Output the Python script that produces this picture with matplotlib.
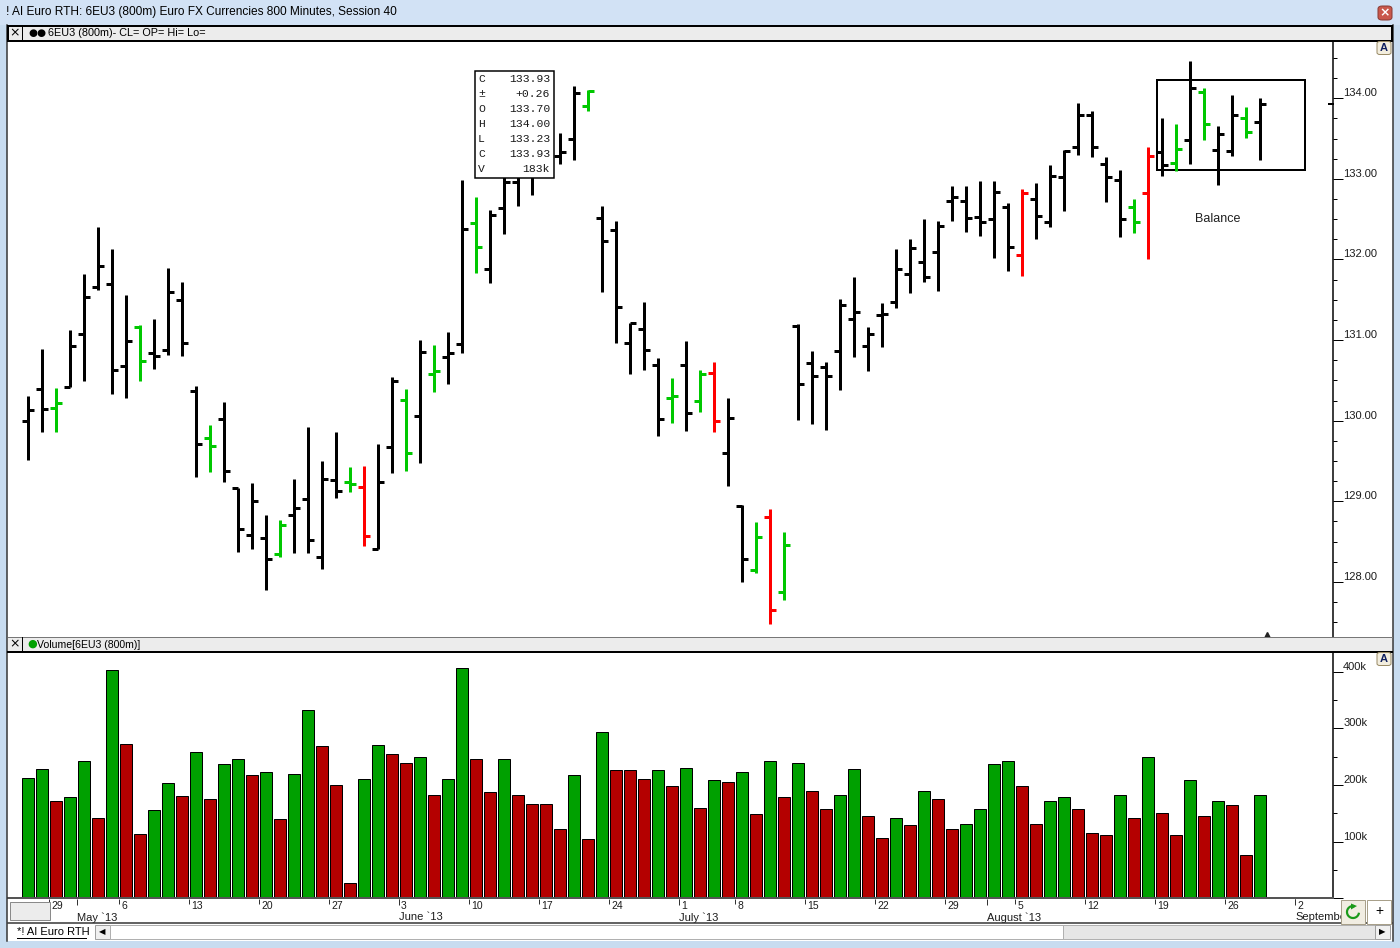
import matplotlib
matplotlib.use("Agg")
import matplotlib.pyplot as plt
from matplotlib.patches import Rectangle, FancyBboxPatch, Arc, Polygon
from matplotlib.ticker import MultipleLocator
from matplotlib.transforms import Bbox, TransformedBbox

# 6EU3 800 minute bars
opens = [130.00, 130.39, 130.16, 130.42, 131.07, 131.66, 131.70, 130.68, 131.16, 130.84,
         130.88, 131.50, 130.37, 129.78, 130.02, 129.16, 128.58, 128.55, 128.35, 128.83,
         129.03, 128.31, 129.26, 129.24, 129.18, 128.41, 129.67, 130.26, 130.06, 130.58,
         130.79, 130.95, 132.45, 131.88, 132.64, 132.96, 133.05, 133.30, 133.29, 133.49,
         133.90, 132.51, 132.37, 130.96, 131.14, 130.69, 130.28, 130.69, 130.25, 130.59,
         129.60, 128.94, 128.15, 128.80, 127.87, 131.17, 130.71, 130.67, 130.87, 131.26,
         130.93, 131.31, 131.47, 131.82, 131.97, 132.09, 132.73, 132.73, 132.53, 132.50,
         132.65, 132.06, 132.75, 132.47, 133.02, 133.40, 133.79, 133.19, 132.99, 132.65,
         132.83, 133.33, 133.20, 133.48, 134.08, 133.36, 133.35, 133.76, 133.70]
highs = [130.31, 130.89, 130.41, 131.13, 131.82, 132.40, 132.13, 131.56, 131.19, 131.26,
         131.90, 131.72, 130.43, 129.95, 130.23, 129.16, 129.23, 128.83, 128.77, 129.28,
         129.92, 129.50, 129.86, 129.42, 129.44, 129.71, 130.54, 130.39, 131.00, 130.94,
         131.10, 132.99, 132.78, 132.61, 133.05, 133.20, 133.35, 133.45, 133.57, 134.15,
         134.10, 132.66, 132.48, 131.21, 131.47, 130.78, 130.53, 130.99, 130.63, 130.73,
         130.28, 128.95, 128.74, 128.91, 128.62, 131.20, 130.87, 130.73, 131.51, 131.78,
         131.16, 131.46, 132.13, 132.26, 132.50, 132.48, 132.91, 132.91, 132.97, 132.97,
         132.70, 132.88, 132.95, 133.17, 133.36, 133.94, 133.84, 133.27, 133.11, 132.75,
         133.40, 133.75, 133.68, 134.46, 134.13, 133.66, 134.04, 133.89, 134.00]
lows = [129.51, 129.86, 129.86, 130.42, 130.49, 131.62, 130.33, 130.28, 130.49, 130.64,
        130.82, 130.80, 129.30, 129.36, 129.24, 128.37, 128.41, 127.90, 128.31, 128.36,
        128.36, 128.16, 129.04, 129.12, 128.45, 128.41, 129.35, 129.37, 129.48, 130.35,
        130.46, 130.84, 131.83, 131.71, 132.32, 132.66, 132.80, 133.10, 133.18, 133.24,
        133.84, 131.60, 130.96, 130.58, 130.63, 129.81, 129.97, 129.87, 130.11, 129.86,
        129.19, 128.00, 128.11, 127.48, 127.78, 130.01, 129.96, 129.89, 130.38, 130.79,
        130.62, 130.91, 131.40, 131.58, 131.72, 131.61, 132.48, 132.34, 132.29, 132.02,
        131.86, 131.80, 132.26, 132.40, 132.60, 133.30, 133.27, 132.71, 132.28, 132.33,
        132.00, 133.04, 133.10, 133.19, 133.48, 132.93, 133.28, 133.51, 133.23]
closes = [130.13, 130.14, 130.22, 130.93, 131.54, 131.92, 130.63, 130.99, 130.74, 130.80,
          131.60, 130.97, 129.71, 129.68, 129.37, 128.66, 129.00, 128.29, 128.70, 128.92,
          128.52, 129.28, 129.13, 129.21, 128.57, 129.24, 130.49, 129.60, 130.85, 130.62,
          130.84, 132.38, 132.16, 132.55, 132.96, 133.10, 133.28, 133.35, 133.33, 134.07,
          134.09, 132.23, 131.41, 131.21, 130.88, 130.02, 130.31, 130.10, 130.58, 129.99,
          130.03, 128.28, 128.56, 127.65, 128.46, 130.45, 130.55, 130.56, 131.43, 131.35,
          131.08, 131.32, 131.88, 132.14, 131.78, 132.41, 132.77, 132.51, 132.47, 132.84,
          132.15, 132.82, 132.54, 133.04, 133.35, 133.79, 133.40, 133.02, 132.50, 132.46,
          133.29, 133.17, 133.37, 134.13, 133.68, 133.56, 133.79, 133.58, 133.93]
# k = black, g = green, r = red price bar
bar_codes = ("kkgkkkkkgk" "kkkgkkkkgk" "kkkgrkkgkg" "kkgkkkkkkk" "gkkkkkgkgr"
             "kkgrgkkkkk" "kkkkkkkkkk" "krkkkkkkkg" "rkgkgkkgk")
volumes_k = [212, 228, 171, 178, 243, 141, 402, 273, 113, 155,
             203, 180, 258, 176, 236, 245, 217, 222, 139, 220,
             332, 268, 199, 27, 210, 270, 254, 238, 250, 183,
             210, 407, 245, 187, 245, 182, 166, 166, 122, 217,
             104, 293, 226, 226, 210, 226, 198, 229, 159, 208,
             206, 222, 148, 243, 178, 238, 189, 157, 182, 228,
             146, 106, 141, 129, 189, 175, 122, 131, 157, 236,
             243, 198, 131, 171, 178, 157, 116, 111, 182, 141,
             250, 150, 111, 208, 145, 171, 164, 76, 183]
vol_codes = ("ggrggrgrrg" "grgrggrgrg" "grrrggrrgr" "ggrrgrrrrg" "rgrrrgrgrg"
             "rgrgrgrrgg" "rrgrgrrggg" "grrggrrrgr" "grrgrgrrg")

week_pos = [1.5, 6.5, 11.5, 16.5, 21.5, 26.5, 31.5, 36.5, 41.5, 46.5,
            50.5, 55.5, 60.5, 65.5, 70.5, 75.5, 80.5, 85.5, 90.5]
week_lbl = ['29', '6', '13', '20', '27', '3', '10', '17', '24', '1',
            '8', '15', '22', '29', '5', '12', '19', '26', '2']
month_pos = [3.5, 26.5, 46.5, 68.5, 90.5]
month_lbl = ['May `13', 'June `13', 'July `13', 'August `13', 'September']

price_ticks = [128, 129, 130, 131, 132, 133, 134]
vol_ticks = [100, 200, 300, 400]

info_keys = ['C', '\u00b1', 'O', 'H', 'L', 'C', 'V']
info_vals = ['133.93', '+0.26', '133.70', '134.00', '133.23', '133.93', '183k']

title = "! AI Euro RTH: 6EU3 (800m) Euro FX Currencies 800 Minutes, Session 40"

price_col = {'k': '#000000', 'g': '#00c800', 'r': '#ff0000'}
vol_col = {'g': '#00a000', 'r': '#b40000'}

W, H = 1400, 948
PX = 0.72   # one pixel in points

def fx(x):
    return x / W

def fy(y):
    return 1 - y / H

def box(x0, y0, x1, y1, fc, ec='none', lw=1, z=1):
    fig.add_artist(Rectangle((fx(x0), fy(y1)), fx(x1) - fx(x0), fy(y0) - fy(y1),
                             transform=fig.transFigure, facecolor=fc, edgecolor=ec,
                             lw=lw * PX, zorder=z))

def line(x0, y0, x1, y1, c='black', lw=1, z=2):
    fig.add_artist(plt.Line2D([fx(x0), fx(x1)], [fy(y0), fy(y1)], transform=fig.transFigure,
                              color=c, lw=lw * PX, zorder=z))

def ftext(x, y, s, **kw):
    kw.setdefault('family', 'Liberation Sans')
    kw.setdefault('fontsize', 8)
    kw.setdefault('va', 'center')
    fig.text(fx(x), fy(y), s, **kw)

fig = plt.figure(figsize=(14, 9.48), dpi=100)
fig.patch.set_facecolor('white')

# x range in bar units (bar i sits at pixel 28 + 14 i)
xmin, xmax = (8 - 28) / 14, (1333 - 28) / 14
xs = list(range(len(opens)))

# ---- price pane
ax = fig.add_axes([fx(8), fy(637), fx(1333) - fx(8), fy(41) - fy(637)])
ax.set_xlim(xmin, xmax)
ax.set_ylim(127.316, 134.711)
cols = [price_col[c] for c in bar_codes]
ax.vlines(xs, lows, highs, colors=cols, lw=3 * PX)
ax.hlines(opens, [x - 0.45 for x in xs], xs, colors=cols, lw=3 * PX)
ax.hlines(closes, xs, [x + 0.45 for x in xs], colors=cols, lw=3 * PX)
ax.add_patch(Rectangle((80.62, 133.11), 10.62, 1.12, fill=False, lw=2 * PX, ec='black'))
ax.text(85.0, 132.50, 'Balance', ha='center', va='center', fontsize=9,
        family='Liberation Sans', color='#202020')
ax.plot([0.997, 1.0], [closes[-1], closes[-1]], color='black', lw=2 * PX,
        transform=ax.get_yaxis_transform(), clip_on=False)
ax.plot([88.5], [0.004], marker='^', ms=5, color='#222222',
        transform=ax.get_xaxis_transform(), clip_on=False)

ax.yaxis.tick_right()
ax.yaxis.set_major_locator(MultipleLocator(1))
ax.yaxis.set_minor_locator(MultipleLocator(0.25))
ax.tick_params(axis='y', which='major', length=7.3, width=PX, labelright=False)
ax.tick_params(axis='y', which='minor', length=3.0, width=PX)
ax.set_xticks([])
for s in ['top', 'left', 'bottom']:
    ax.spines[s].set_visible(False)
ax.spines['right'].set_linewidth(1.5 * PX)
for p in price_ticks:
    ax.text(1.0076, p, f'{p:.2f}', transform=ax.get_yaxis_transform(), ha='left',
            va='bottom', fontsize=8, family='Liberation Sans', color='#1c1c1c')

# ---- volume pane
av = fig.add_axes([fx(8), fy(898.3), fx(1333) - fx(8), fy(652) - fy(898.3)])
av.set_xlim(xmin, xmax)
av.set_ylim(0, 434.4)
av.bar(xs, volumes_k, width=0.86, color=[vol_col[c] for c in vol_codes],
       edgecolor='black', lw=PX)
av.yaxis.tick_right()
av.yaxis.set_major_locator(MultipleLocator(100))
av.yaxis.set_minor_locator(MultipleLocator(50))
av.tick_params(axis='y', which='major', length=7.3, width=PX, labelright=False)
av.tick_params(axis='y', which='minor', length=3.0, width=PX)
av.set_xticks([])
for s in ['top', 'left']:
    av.spines[s].set_visible(False)
av.spines['right'].set_linewidth(1.5 * PX)
av.spines['bottom'].set_color('#555555')
av.spines['bottom'].set_linewidth(2 * PX)
for v in vol_ticks:
    av.text(1.0076, v, f'{v}k', transform=av.get_yaxis_transform(), ha='left',
            va='bottom', fontsize=8, family='Liberation Sans', color='#1c1c1c')

# ---- date axis
ad = fig.add_axes([fx(8), fy(922), fx(1333) - fx(8), fy(899) - fy(922)])
ad.set_xlim(xmin, xmax)
ad.set_ylim(922, 899)
ad.axis('off')
ad.vlines(week_pos, 899, 904, colors='#333333', lw=PX)
ad.vlines(month_pos, 899, 905, colors='#333333', lw=PX)
# labels are cut where the buttons in the corner start
label_clip = TransformedBbox(Bbox([[fx(8), fy(922)], [fx(1340), fy(899)]]), fig.transFigure)
for p, s in zip(week_pos, week_lbl):
    t = ad.text(p + 0.15, 906, s, ha='left', va='center', fontsize=7.5,
                family='Liberation Sans', color='#1c1c1c')
    t.set_clip_box(label_clip)
for p, s in zip(month_pos, month_lbl):
    t = ad.text(p, 917.5, s, ha='left', va='center', fontsize=8,
                family='Liberation Sans', color='#1c1c1c')
    t.set_clip_box(label_clip)

# ---- window chrome
box(0, 0, 1400, 25, '#d2e2f5', z=0)
ftext(6, 12.5, title, fontsize=8.6)
close_btn = FancyBboxPatch((fx(1378), fy(20)), fx(14), fy(6) - fy(20),
                           boxstyle='round,pad=0,rounding_size=0.003',
                           transform=fig.transFigure, fc='#c9584c', ec='#8a3a33',
                           lw=PX, zorder=3)
fig.add_artist(close_btn)
ftext(1385, 13, '\u00d7', fontsize=9, ha='center', color='white', weight='bold',
      family='DejaVu Sans')
box(0, 25, 7, 948, '#c8dcf0', z=0)
box(1393, 25, 1400, 948, '#c8dcf0', z=0)
box(0, 941, 1400, 948, '#c8dcf0', z=0)
line(7, 25, 7, 941, c='#333333', lw=1.5)
line(1392.5, 25, 1392.5, 941, c='#333333', lw=1.5)

# price header
box(8, 25.5, 1392, 40.5, '#ececec', ec='black', lw=2, z=2)
line(22, 26, 22, 40, lw=1, z=3)
ftext(15, 33, '\u00d7', fontsize=9, ha='center', family='DejaVu Sans')
ftext(37, 33, '\u25cf\u25cf', fontsize=7.5, ha='center', family='DejaVu Sans')
ftext(48, 33, '6EU3 (800m)- CL= OP= Hi= Lo=', fontsize=7.8)

# volume header
box(8, 637, 1392, 651.5, '#ececec', ec='none', z=2)
line(8, 637, 1392, 637, c='#777777', lw=1, z=3)
line(8, 651.5, 1392, 651.5, c='black', lw=2, z=3)
line(22, 637, 22, 651, lw=1, z=3)
ftext(15, 644, '\u00d7', fontsize=9, ha='center', family='DejaVu Sans')
ftext(32, 644, '\u25cf', fontsize=8, ha='center', family='DejaVu Sans', color='#00a000')
ftext(37, 644.5, 'Volume[6EU3 (800m)]', fontsize=7.6)

# "A" buttons
for yb in [41.5, 652.5]:
    fig.add_artist(FancyBboxPatch((fx(1377), fy(yb + 13)), fx(14), fy(yb) - fy(yb + 13),
                                  boxstyle='round,pad=0,rounding_size=0.002',
                                  transform=fig.transFigure, fc='#f3eedf', ec='#9a8b66',
                                  lw=PX, zorder=3))
    ftext(1384, yb + 6.5, 'A', fontsize=8, ha='center', color='#102060', weight='bold')

# date axis border and small boxes
line(8, 922.5, 1392, 922.5, c='#333333', lw=1.5)
box(10, 902, 50, 920, '#ececec', ec='#8a8a8a', lw=1, z=2)
box(1341, 900, 1365, 924, '#f1ede2', ec='#a8a08a', lw=1, z=5)
# refresh icon: circular arrow
fig.add_artist(Arc((fx(1353), fy(912)), 12 / W, 12 / H, theta1=80, theta2=350,
                   transform=fig.transFigure, color='#1a9a1a', lw=2.2 * PX, zorder=6))
fig.add_artist(Polygon([(fx(1351), fy(903.5)), (fx(1357), fy(906)), (fx(1351), fy(909.5))],
                       closed=True, transform=fig.transFigure, fc='#1a9a1a',
                       ec='none', zorder=6))
box(1367, 900, 1391, 924, '#ffffff', ec='#a8a08a', lw=1, z=5)
ftext(1379, 911.5, '+', fontsize=10, ha='center', zorder=6)

# bottom tab bar with scroll bar
box(8, 923, 1392, 941, '#ffffff', z=1)
ftext(17, 932, '*! AI Euro RTH', fontsize=8)
line(17, 937.5, 86, 937.5, lw=1)
box(95, 925, 110, 939, '#f0f0f0', ec='#a0a0a0', lw=1, z=2)
ftext(102.5, 932, '\u25c0', fontsize=6, ha='center', family='DejaVu Sans')
box(110, 925, 1063, 939, '#ffffff', ec='#b0b0b0', lw=1, z=2)
box(1063, 925, 1375, 939, '#e6e6e6', ec='#b0b0b0', lw=1, z=2)
box(1375, 925, 1390, 939, '#f0f0f0', ec='#a0a0a0', lw=1, z=2)
ftext(1382.5, 932, '\u25b6', fontsize=6, ha='center', family='DejaVu Sans')

# OHLC data window
box(474.5, 71, 553.5, 177.5, 'white', ec='black', lw=1.5, z=10)
for i, (k, v) in enumerate(zip(info_keys, info_vals)):
    yy = 79 + 15.05 * i
    fig.text(fx(481.5), fy(yy), k, ha='center', va='center', fontsize=8.2,
             family='Liberation Mono', color='#1a1a1a', zorder=11)
    fig.text(fx(550), fy(yy), v, ha='right', va='center', fontsize=8.2,
             family='Liberation Mono', color='#1a1a1a', zorder=11)

fig.savefig('out.png', dpi=100)
